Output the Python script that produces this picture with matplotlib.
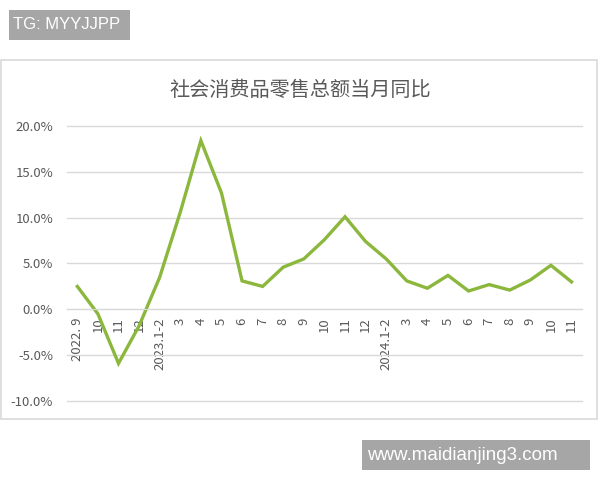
import matplotlib
matplotlib.use('Agg')
import matplotlib.pyplot as plt
from matplotlib.patches import Rectangle
from matplotlib.ticker import FuncFormatter

plt.rcParams['font.family'] = ['Noto Sans CJK SC', 'DejaVu Sans']

# month labels and year-on-year growth (%)
labels = ['2022. 9', '10', '11', '12',
          '2023.1-2', '3', '4', '5', '6', '7', '8', '9', '10', '11', '12',
          '2024.1-2', '3', '4', '5', '6', '7', '8', '9', '10', '11']
growth = [2.5, -0.5, -5.9, -1.8,
          3.5, 10.6, 18.4, 12.7, 3.1, 2.5, 4.6, 5.5, 7.6, 10.1, 7.4,
          5.5, 3.1, 2.3, 3.7, 2.0, 2.7, 2.1, 3.2, 4.8, 3.0]
yticks = [-10, -5, 0, 5, 10, 15, 20]

text_grey = '#595959'
grid_grey = '#d9d9d9'
green = '#8cb73d'

fig = plt.figure(figsize=(6, 4.8), dpi=100)

# chart frame
fig.patches.append(Rectangle((0.002, 0.127), 0.993, 0.748, transform=fig.transFigure,
                             facecolor='none', edgecolor=grid_grey, linewidth=1.2))

ax = fig.add_axes([0.1117, 0.1646, 0.858, 0.5729])
x = list(range(len(labels)))
ax.plot(x, growth, color=green, linewidth=2.4, solid_joinstyle='miter')

ax.set_xlim(-0.5, len(labels) - 0.5)
ax.set_ylim(-10, 20)
ax.set_yticks(yticks)
ax.yaxis.set_major_formatter(FuncFormatter(lambda v, p: f'{v:.1f}%'))
ax.grid(axis='y', color=grid_grey, linewidth=1)
ax.set_axisbelow(True)
for gl in ax.get_ygridlines():
    gl.set_clip_on(False)

for s in ['top', 'right', 'left']:
    ax.spines[s].set_visible(False)
ax.spines['bottom'].set_position(('data', 0))
ax.spines['bottom'].set_color(grid_grey)

ax.set_xticks(x)
ax.set_xticklabels(labels, rotation=90, va='top', ha='center')
ax.tick_params(axis='x', length=0, pad=6, labelsize=9.5, colors=text_grey)
ax.tick_params(axis='y', length=0, pad=10, labelsize=9.5, colors=text_grey)
ax.set_facecolor('none')

fig.text(0.5, 0.812, '社会消费品零售总额当月同比', ha='center', va='center',
         fontsize=14.5, color=text_grey)

# watermark boxes
fig.patches.append(Rectangle((0.015, 0.917), 0.2017, 0.062, transform=fig.transFigure,
                             facecolor='#a6a6a6', edgecolor='none'))
fig.text(0.022, 0.948, 'TG: MYYJJPP', ha='left', va='center', fontsize=12,
         color='white', family=['Liberation Sans', 'DejaVu Sans'])
fig.patches.append(Rectangle((0.603, 0.021), 0.38, 0.0625, transform=fig.transFigure,
                             facecolor='#a6a6a6', edgecolor='none'))
fig.text(0.611, 0.052, 'www.maidianjing3.com', ha='left', va='center', fontsize=13.5,
         color='white', family=['Liberation Sans', 'DejaVu Sans'])

fig.savefig('out.png', dpi=100)
